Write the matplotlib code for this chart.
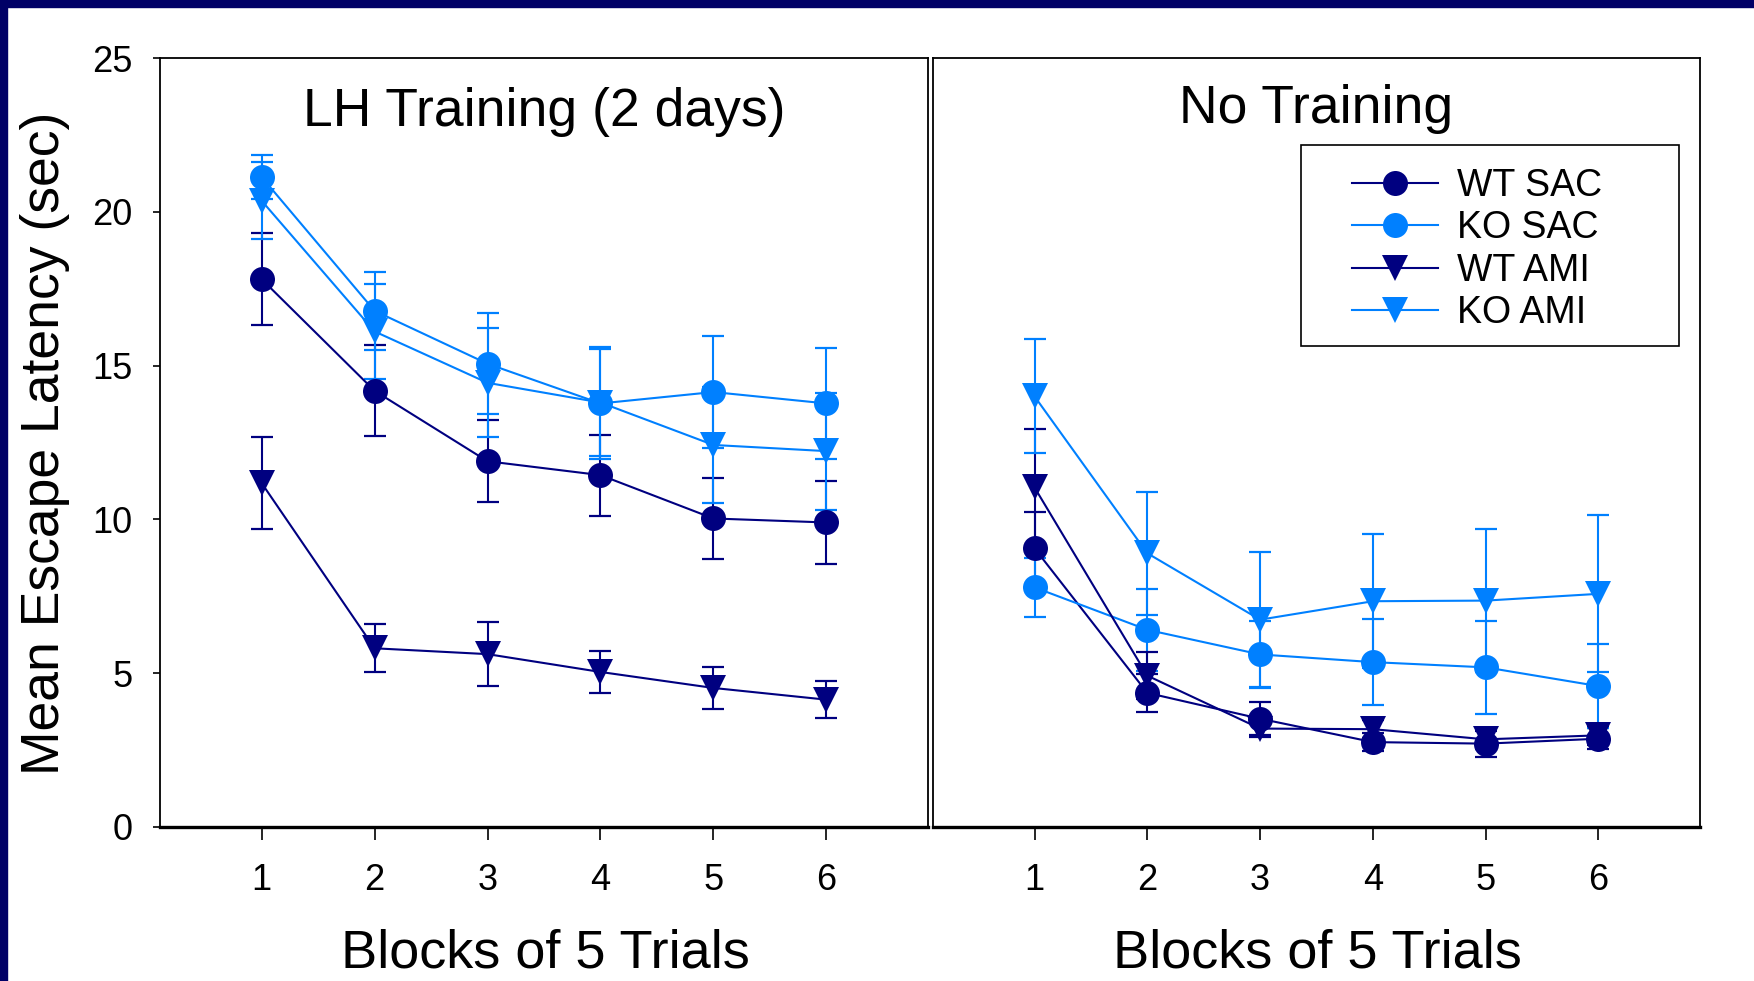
import matplotlib
matplotlib.use('Agg')
import matplotlib.pyplot as plt
from matplotlib.lines import Line2D
from matplotlib.patches import Rectangle

plt.rcParams['font.family'] = ['Liberation Sans', 'DejaVu Sans']

blocks = [1, 2, 3, 4, 5, 6]
groups = ['WT SAC', 'KO SAC', 'WT AMI', 'KO AMI']

# LH training (2 days)
lh_wt_sac = [17.81, 14.18, 11.89, 11.44, 10.03, 9.90]
lh_wt_sac_se = [1.50, 1.48, 1.34, 1.32, 1.33, 1.35]
lh_ko_sac = [21.13, 16.78, 15.06, 13.77, 14.14, 13.77]
lh_ko_sac_se = [0.72, 1.26, 1.64, 1.82, 1.83, 1.81]
lh_wt_ami = [11.18, 5.81, 5.62, 5.04, 4.52, 4.14]
lh_wt_ami_se = [1.50, 0.78, 1.03, 0.67, 0.68, 0.60]
lh_ko_ami = [20.36, 16.11, 14.44, 13.80, 12.42, 12.22]
lh_ko_ami_se = [1.25, 1.55, 1.77, 1.75, 1.90, 1.90]

# No training
nt_wt_sac = [9.06, 4.36, 3.52, 2.76, 2.71, 2.87]
nt_wt_sac_se = [1.19, 0.63, 0.54, 0.30, 0.42, 0.35]
nt_ko_sac = [7.79, 6.41, 5.61, 5.36, 5.19, 4.58]
nt_ko_sac_se = [0.97, 1.34, 1.10, 1.41, 1.51, 1.37]
nt_wt_ami = [11.04, 4.92, 3.20, 3.18, 2.85, 2.98]
nt_wt_ami_se = [1.90, 0.76, 0.26, 0.30, 0.30, 0.30]
nt_ko_ami = [14.00, 8.90, 6.74, 7.34, 7.36, 7.58]
nt_ko_ami_se = [1.85, 2.00, 2.20, 2.18, 2.33, 2.55]

NAVY = '#000080'
LIGHT = '#0080FF'
styles = {
    'WT SAC': (NAVY, 'o'),
    'KO SAC': (LIGHT, 'o'),
    'WT AMI': (NAVY, 'v'),
    'KO AMI': (LIGHT, 'v'),
}

fig = plt.figure(figsize=(17.54, 9.81), dpi=100)
ax1 = fig.add_axes([160 / 1754, 154 / 981, 768 / 1754, 769 / 981])
ax2 = fig.add_axes([933 / 1754, 154 / 981, 767 / 1754, 769 / 981])

panels = [
    (ax1, 'LH Training (2 days)', 0.962,
     [(lh_wt_sac, lh_wt_sac_se), (lh_ko_sac, lh_ko_sac_se),
      (lh_wt_ami, lh_wt_ami_se), (lh_ko_ami, lh_ko_ami_se)]),
    (ax2, 'No Training', 0.966,
     [(nt_wt_sac, nt_wt_sac_se), (nt_ko_sac, nt_ko_sac_se),
      (nt_wt_ami, nt_wt_ami_se), (nt_ko_ami, nt_ko_ami_se)]),
]

for ax, title, ty, series in panels:
    for name, (vals, se) in zip(groups, series):
        color, marker = styles[name]
        line, caps, bars = ax.errorbar(
            blocks, vals, yerr=se, color=color, marker=marker,
            markersize=18 if marker == 'o' else 19, lw=1.5,
            elinewidth=1.5, capsize=8, capthick=1.6)
        line.set_markeredgewidth(0)
    ax.set_xlim(0.1, 6.9)
    ax.set_ylim(0, 25)
    ax.set_xticks(blocks)
    ax.set_yticks([0, 5, 10, 15, 20, 25])
    ax.tick_params(axis='x', direction='out', length=9, width=1.2,
                   pad=17, labelsize=26)
    ax.tick_params(axis='y', direction='out', length=5, width=1.2,
                   pad=15, labelsize=26)
    for side in ['left', 'right', 'top']:
        ax.spines[side].set_linewidth(1.3)
    ax.spines['bottom'].set_linewidth(2.4)
    ax.text(0.5, ty, title, transform=ax.transAxes, ha='center', va='top',
            fontsize=38.5)

ax2.tick_params(axis='y', left=False, labelleft=False)

# legend with its own wide frame
handles = [Line2D([], [], color=styles[g][0], marker=styles[g][1], lw=1.5,
                  markersize=18 if styles[g][1] == 'o' else 19,
                  markeredgewidth=0) for g in groups]
ax2.legend(handles, groups, loc='upper left', bbox_to_anchor=(0.546, 0.857),
           frameon=False, fontsize=27, handlelength=2.3, handletextpad=0.5,
           labelspacing=0.17, borderpad=0, borderaxespad=0)
ax2.add_patch(Rectangle((0.480, 0.625), 0.493, 0.262, transform=ax2.transAxes,
                        fill=False, edgecolor='black', lw=1.2, clip_on=False))

fig.text(45 / 1754, 1 - 443 / 981, 'Mean Escape Latency (sec)', rotation=90,
         ha='center', va='center', fontsize=38.5)
fig.text(545 / 1754, 13 / 981, 'Blocks of 5 Trials', ha='center',
         va='baseline', fontsize=39)
fig.text(1317 / 1754, 13 / 981, 'Blocks of 5 Trials', ha='center',
         va='baseline', fontsize=39)

# navy frame strips along the top and left edges
fig.patches.append(Rectangle((0, 1 - 7 / 981), 1, 7 / 981,
                             transform=fig.transFigure, color='#000066'))
fig.patches.append(Rectangle((0, 0), 7 / 1754, 1,
                             transform=fig.transFigure, color='#000066'))

fig.savefig('out.png', dpi=100)
